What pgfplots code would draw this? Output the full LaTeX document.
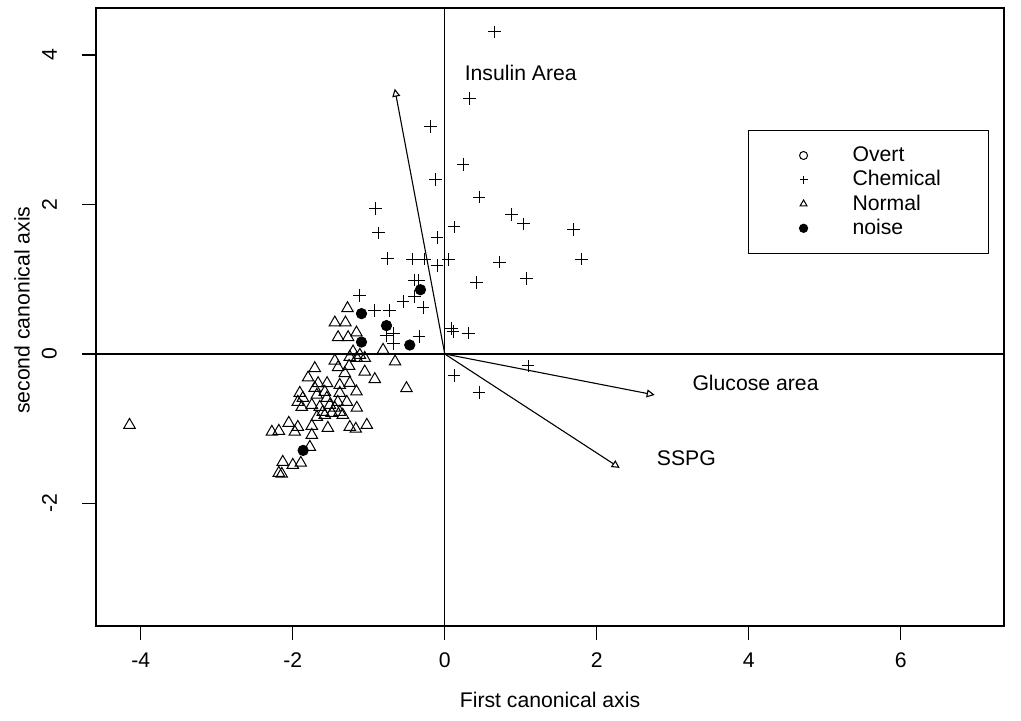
\documentclass[border=0pt]{standalone}
\usepackage{pgfplots}
\pgfplotsset{compat=1.18}
\usepackage{fontspec}
\setmainfont{Liberation Sans}
\usetikzlibrary{arrows.meta}
\begin{document}
\begin{tikzpicture}
\begin{axis}[
  scale only axis, width=454pt, height=309pt,
  xmin=-4.59, xmax=7.36, ymin=-3.64, ymax=4.63,
  axis line style={line width=0.6pt},
  font=\fontsize{10.6}{12.7}\selectfont,
  xtick={-4,-2,0,2,4,6}, xticklabels={-4,-2,0,2,4,6},
  ytick={-2,0,2,4}, yticklabels={-2,0,2,4},
  xtick pos=left, ytick pos=left,
  tick align=outside, major tick length=7pt,
  tick style={line width=0.6pt, black},
  xticklabel shift=3pt,
  yticklabel style={rotate=90, anchor=south},
  yticklabel shift=9pt,
  xlabel={First canonical axis}, ylabel={second canonical axis},
  xlabel style={at={(axis description cs:0.5,-0.1197)}, anchor=center},
  ylabel style={at={(axis description cs:-0.0815,0.511)}, anchor=center},
  legend style={at={(axis description cs:0.718,0.8026)}, anchor=north west,
    draw=black, line width=0.6pt, inner xsep=25.5pt, inner ysep=6pt, row sep=-1pt,
    /tikz/every odd column/.append style={column sep=20.5pt},
    /tikz/every even column/.append style={text width=40.5pt}},
  legend cell align=left,
  legend image post style={mark size=2pt},
]
\addlegendimage{only marks, mark=o, mark size=1.8pt, black, line width=0.5pt}
\addlegendentry{\mbox{Overt}}
\addplot[only marks, mark=+, mark size=3.2pt, black, line width=0.5pt] coordinates {
(0.658,4.31) (0.329,3.42) (-0.188,3.04) (0.241,2.54) (-0.118,2.33) (0.451,2.10)
(-0.908,1.95) (-0.868,1.62) (0.878,1.87) (1.039,1.74) (1.697,1.67) (0.122,1.70)
(-0.101,1.56) (1.799,1.27) (-0.759,1.28) (-0.421,1.27) (-0.263,1.27) (0.053,1.26)
(-0.101,1.18) (0.724,1.23) (1.075,1.01) (0.417,0.96) (-0.395,0.99) (-0.351,0.98)
(-0.395,0.77) (-0.549,0.70) (-0.286,0.62) (-1.118,0.78) (-0.921,0.58) (-0.724,0.58)
(-0.767,0.25) (-0.680,0.28) (-0.671,0.14) (-0.338,0.23) (0.088,0.34) (0.109,0.30)
(0.307,0.28) (1.096,-0.16) (0.122,-0.29) (0.451,-0.51)
};
\addlegendentry{\mbox{Chemical}}
\addplot[only marks, mark=triangle, mark size=3.3pt, black, line width=0.5pt] coordinates {
(-4.149,-0.950) (-1.280,0.611) (-1.447,0.419) (-1.307,0.419) (-1.404,0.223) (-1.272,0.223)
(-1.162,0.285) (-1.207,0.031) (-0.812,0.054) (-1.118,-0.013) (-1.053,-0.054) (-1.158,-0.054)
(-1.250,-0.040) (-0.654,-0.103) (-1.447,-0.090) (-1.404,-0.178) (-1.711,-0.191) (-1.259,-0.161)
(-1.053,-0.237) (-1.316,-0.258) (-1.799,-0.317) (-0.921,-0.338) (-0.504,-0.459) (-1.667,-0.392)
(-1.549,-0.392) (-1.250,-0.388) (-1.382,-0.415) (-1.162,-0.504) (-1.908,-0.522) (-1.868,-0.589)
(-1.934,-0.642) (-1.882,-0.709) (-1.711,-0.455) (-1.684,-0.548) (-1.579,-0.508) (-1.553,-0.589)
(-1.382,-0.522) (-1.408,-0.642) (-1.289,-0.642) (-1.750,-0.682) (-1.645,-0.709) (-1.513,-0.682)
(-1.447,-0.722) (-1.605,-0.776) (-1.487,-0.789) (-1.382,-0.776) (-1.342,-0.816) (-1.158,-0.722)
(-1.684,-0.843) (-1.579,-0.816) (-2.053,-0.923) (-1.934,-0.977) (-1.974,-1.043) (-2.276,-1.043)
(-2.184,-1.030) (-1.750,-0.963) (-1.750,-1.084) (-1.539,-0.990) (-1.250,-0.977) (-1.171,-1.003)
(-1.026,-0.950) (-1.776,-1.244) (-2.132,-1.445) (-2.000,-1.485) (-1.895,-1.458) (-2.184,-1.592)
(-2.145,-1.605)
};
\addlegendentry{\mbox{Normal}}
\addplot[only marks, mark=*, mark size=2.6pt, black] coordinates {
(-0.320,0.86) (-1.096,0.54) (-0.767,0.38) (-1.096,0.16) (-0.461,0.12) (-1.864,-1.29)
};
\addlegendentry{\mbox{noise}}
\addplot[black, line width=0.55pt, forget plot] coordinates {(-10,0) (10,0)};
\addplot[black, line width=0.55pt, forget plot] coordinates {(0,-10) (0,10)};
\addplot[black, line width=0.55pt, forget plot, -{Triangle[open, length=4pt, width=4pt]}] coordinates {(0,0) (-0.658,3.55)};
\addplot[black, line width=0.55pt, forget plot, -{Triangle[open, length=4pt, width=4pt]}] coordinates {(0,0) (2.763,-0.548)};
\addplot[black, line width=0.55pt, forget plot, -{Triangle[open, length=4pt, width=4pt]}] coordinates {(0,0) (2.303,-1.525)};
\node at (axis cs:1.0,3.76) {Insulin Area};
\node at (axis cs:4.09,-0.39) {Glucose area};
\node at (axis cs:3.18,-1.39) {SSPG};
\end{axis}
\pgfresetboundingbox
\path ([xshift=-48pt,yshift=-47pt]current axis.south west) rectangle ([xshift=8.5pt,yshift=4pt]current axis.north east);
\end{tikzpicture}
\end{document}
